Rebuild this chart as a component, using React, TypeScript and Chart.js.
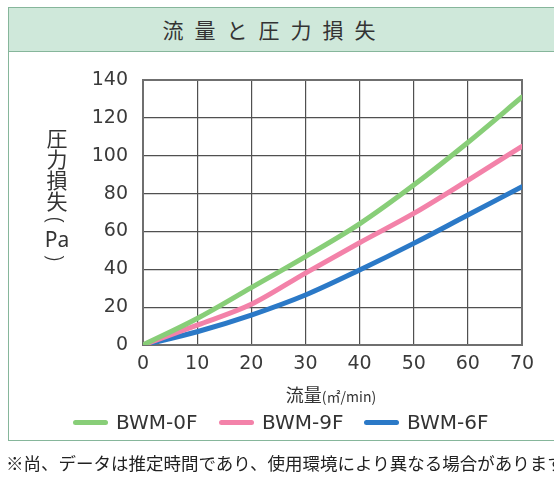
import React, { useEffect, useRef } from "react";
import { Chart, registerables } from "chart.js";

Chart.register(...registerables);

const flowValues = [0, 10, 20, 30, 40, 50, 60, 70];
const bwm0f = [0, 14, 30.3, 46.7, 64, 84.5, 107, 131];
const bwm9f = [0, 10.5, 21.5, 38, 54, 69.5, 87, 105];
const bwm6f = [0, 7, 15.8, 26.4, 39.6, 53.7, 68.7, 83.6];
const seriesNames = ["BWM-0F", "BWM-9F", "BWM-6F"];
const seriesColors = ["#88ce78", "#f382a9", "#2b79c7"];

const titleText = "流量と圧力損失";
const yTitleChars = ["圧", "力", "損", "失"];
const yTitleUnit = "Pa";
const xTitleMain = "流量";
const xTitleUnit = "(㎡/min)";
const footnote = "※尚、データは推定時間であり、使用環境により異なる場合があります。";

const borderPlugin = {
  id: "plotBorder",
  beforeDatasetsDraw(chart: any) {
    const { ctx, chartArea } = chart;
    ctx.save();
    ctx.strokeStyle = "#6f6f6f";
    ctx.lineWidth = 2;
    ctx.strokeRect(chartArea.left, chartArea.top, chartArea.right - chartArea.left, chartArea.bottom - chartArea.top);
    ctx.restore();
  },
};

export default function App() {
  const ref = useRef<HTMLCanvasElement>(null);

  useEffect(() => {
    if (!ref.current) return;
    const all = [bwm0f, bwm9f, bwm6f];
    const chart = new Chart(ref.current, {
      type: "line",
      data: {
        datasets: all.map((vals, i) => ({
          label: seriesNames[i],
          data: vals.map((v, j) => ({ x: flowValues[j], y: v })),
          borderColor: seriesColors[i],
          backgroundColor: seriesColors[i],
          borderWidth: 5,
          pointRadius: 0,
          cubicInterpolationMode: "monotone" as const,
          borderCapStyle: "round" as const,
          fill: false,
        })),
      },
      options: {
        animation: false,
        responsive: false,
        layout: { padding: { left: 0, top: 80, right: 32, bottom: 93 } },
        plugins: { legend: { display: false }, tooltip: { enabled: false } },
        scales: {
          x: {
            type: "linear",
            min: 0,
            max: 70,
            ticks: { stepSize: 10, padding: 8, color: "#3a3a3a", font: { family: "DejaVu Sans", size: 19 } },
            grid: { color: "#505050", lineWidth: 1.2, drawTicks: false },
            border: { display: false },
            afterFit: (s: any) => { s.height = 40; },
          },
          y: {
            min: 0,
            max: 140,
            ticks: { stepSize: 20, padding: 15, color: "#3a3a3a", font: { family: "DejaVu Sans", size: 19 } },
            grid: { color: "#505050", lineWidth: 1.2, drawTicks: false },
            border: { display: false },
            afterFit: (s: any) => { s.width = 143; },
          },
        },
      },
      plugins: [borderPlugin],
    });
    return () => chart.destroy();
  }, []);

  const legendPos = [
    { line: 73, text: 116 },
    { line: 219, text: 262 },
    { line: 364, text: 407 },
  ];

  const cjk = "'Noto Sans CJK JP'";
  const parenBox: React.CSSProperties = {
    width: 28,
    display: "flex",
    alignItems: "center",
    justifyContent: "center",
    overflow: "visible",
  };
  const parenGlyph: React.CSSProperties = {
    display: "inline-block",
    transform: "rotate(90deg)",
    transformOrigin: "50% 50%",
    fontFamily: "Noto Sans",
    fontWeight: 300,
    fontSize: 22,
    lineHeight: "22px",
  };

  return (
    <div style={{ position: "fixed", left: 0, top: 0, width: 554, height: 478, overflow: "hidden", background: "#fff" }}>
      <div style={{ position: "absolute", left: 8, top: 7, width: 570, height: 434, border: "1.5px solid #86b69b", boxSizing: "border-box" }} />
      <div style={{ position: "absolute", left: 8, top: 7, width: 570, height: 45, background: "#cfe8da", borderTop: "1.5px solid #86b69b", borderLeft: "1.5px solid #86b69b", borderBottom: "1.5px solid #86b69b", boxSizing: "border-box" }} />
      <div style={{ position: "absolute", left: 0, top: 7, width: 538, height: 45, lineHeight: "45px", textAlign: "center", fontFamily: cjk, fontSize: 21, color: "#333", letterSpacing: 11, paddingLeft: 11, boxSizing: "border-box" }}>
        {titleText}
      </div>
      <canvas ref={ref} width={554} height={478} style={{ position: "absolute", left: 0, top: 0, width: 554, height: 478 }} />
      <div style={{ position: "absolute", left: 43, top: 127, width: 28, display: "flex", flexDirection: "column", alignItems: "center", color: "#333" }}>
        {yTitleChars.map((c) => (
          <div key={c} style={{ fontFamily: cjk, fontSize: 21, lineHeight: "21px", height: 21 }}>{c}</div>
        ))}
        <div style={{ ...parenBox, height: 18 }}>
          <span style={parenGlyph}>(</span>
        </div>
        <div style={{ fontFamily: "Noto Sans", fontSize: 21, lineHeight: "21px", height: 21 }}>{yTitleUnit}</div>
        <div style={{ ...parenBox, height: 16 }}>
          <span style={parenGlyph}>)</span>
        </div>
      </div>
      <div style={{ position: "absolute", left: 231, top: 381, width: 200, textAlign: "center", color: "#333", fontFamily: cjk, whiteSpace: "nowrap" }}>
        <span style={{ fontSize: 18 }}>{xTitleMain}</span>
        <span style={{ fontSize: 14 }}>{xTitleUnit}</span>
      </div>
      {seriesNames.map((n, i) => (
        <React.Fragment key={n}>
          <div style={{ position: "absolute", left: legendPos[i].line, top: 420, width: 35, height: 5, borderRadius: 3, background: seriesColors[i] }} />
          <div style={{ position: "absolute", left: legendPos[i].text, top: 409, fontFamily: "DejaVu Sans", fontSize: 20, lineHeight: "26px", color: "#333" }}>{n}</div>
        </React.Fragment>
      ))}
      <div style={{ position: "absolute", left: 6, top: 450, fontFamily: cjk, fontSize: 17.5, lineHeight: "26px", color: "#222", whiteSpace: "nowrap" }}>
        {footnote}
      </div>
    </div>
  );
}
